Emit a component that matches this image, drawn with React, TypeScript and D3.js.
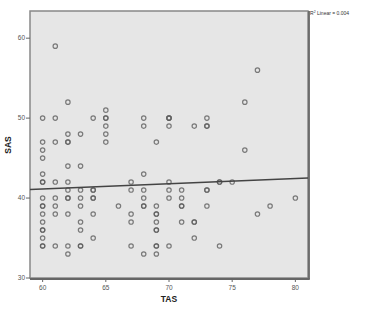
import React from "react";
import * as d3 from "d3";

const tasValues: number[] = [
  61, 62, 65, 60, 61, 64, 65, 65, 68, 70, 70, 65, 68, 70, 62, 63, 65, 60, 61, 62, 62, 65, 69, 60, 60,
  62, 63, 60, 68, 60, 60, 61, 62, 67, 70, 62, 63, 64, 64, 67, 68, 70, 60, 61, 62, 62, 63, 64, 64, 68, 70,
  60, 60, 61, 63, 66, 68, 68, 69, 60, 61, 62, 64, 67, 69, 69, 60, 63, 67, 69, 60, 60, 63, 69, 69, 60, 64,
  60, 60, 61, 62, 63, 63, 67, 69, 69, 70, 62, 68, 69,
  77, 76, 70, 73, 72, 73, 73, 76,
  74, 74, 75, 71, 73, 73, 71, 80, 71, 71, 73, 78, 77, 71, 72, 72, 72, 74,
];
const sasValues: number[] = [
  59, 52, 51, 50, 50, 50, 50, 50, 50, 50, 50, 49, 49, 49, 48, 48, 48, 47, 47, 47, 47, 47, 47, 46, 45,
  44, 44, 43, 43, 42, 42, 42, 42, 42, 42, 41, 41, 41, 41, 41, 41, 41, 40, 40, 40, 40, 40, 40, 40, 40, 40,
  39, 39, 39, 39, 39, 39, 39, 39, 38, 38, 38, 38, 38, 38, 38, 37, 37, 37, 37, 36, 36, 36, 36, 36, 35, 35,
  34, 34, 34, 34, 34, 34, 34, 34, 34, 34, 33, 33, 33,
  56, 52, 50, 50, 49, 49, 49, 46,
  42, 42, 42, 41, 41, 41, 40, 40, 39, 39, 39, 39, 38, 37, 37, 37, 35, 34,
];
const xTicks: number[] = [60, 65, 70, 75, 80];
const yTicks: number[] = [30, 40, 50, 60];
const fitLine: number[] = [37.17, 0.066]; // intercept, slope
const fitLabel = "Linear = 0.004";

export default function App() {
  const left = 30, right = 308, top = 11, bottom = 278;
  const x = d3.scaleLinear().domain([59, 81]).range([left, right]);
  const y = d3.scaleLinear().domain([30, 63.4]).range([bottom, top]);
  const line = d3.line<number>().x((d) => x(d)).y((d) => y(fitLine[0] + fitLine[1] * d));
  const font = "'Liberation Sans', Arial, sans-serif";
  return (
    <svg width={369} height={315} style={{ position: "absolute", left: 0, top: 0, background: "#fff" }}>
      <rect x={left} y={top} width={right - left} height={bottom - top} fill="#e6e6e6" stroke="#888" strokeWidth={1.5} />
      <line x1={right + 1} y1={top} x2={right + 1} y2={bottom + 1} stroke="#666" strokeWidth={1.8} />
      <line x1={left} y1={bottom + 1} x2={right + 1.8} y2={bottom + 1} stroke="#666" strokeWidth={1.8} />
      {xTicks.map((t) => (
        <g key={"x" + t}>
          <line x1={x(t)} x2={x(t)} y1={bottom} y2={bottom + 4} stroke="#666" strokeWidth={1} />
          <text x={x(t)} y={bottom + 12} fontSize={6.5} fill="#555" textAnchor="middle" fontFamily={font}>{t}</text>
        </g>
      ))}
      {yTicks.map((t) => (
        <g key={"y" + t}>
          <line x1={left - 4} x2={left} y1={y(t)} y2={y(t)} stroke="#666" strokeWidth={1} />
          <text x={left - 5} y={y(t) + 2.2} fontSize={6.5} fill="#555" textAnchor="end" fontFamily={font}>{t}</text>
        </g>
      ))}
      {tasValues.map((v, i) => (
        <circle key={i} cx={x(v)} cy={y(sasValues[i])} r={2.2} fill="none" stroke="#5e5e5e" strokeWidth={1.2} strokeOpacity={0.8} />
      ))}
      <path d={line([59, 81]) || ""} stroke="#444" strokeWidth={1.5} fill="none" />
      <text x={310} y={15} fontSize={5} fill="#333" fontFamily={font}>
        R<tspan fontSize={3.5} dy={-2}>2</tspan><tspan dy={2}> {fitLabel}</tspan>
      </text>
      <text x={169} y={302} fontSize={8.5} fontWeight="bold" fill="#222" textAnchor="middle" fontFamily={font}>TAS</text>
      <text transform={`translate(11,145) rotate(-90)`} fontSize={8.5} fontWeight="bold" fill="#222" textAnchor="middle" fontFamily={font}>SAS</text>
    </svg>
  );
}
